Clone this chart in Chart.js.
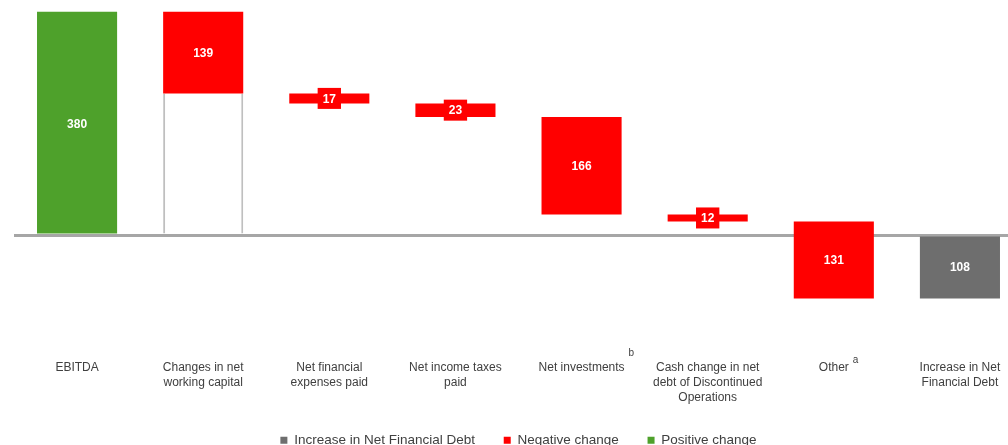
<!DOCTYPE html>
<html>
<head>
<meta charset="utf-8">
<script src="https://cdn.jsdelivr.net/npm/chart.js@4.4.1/dist/chart.umd.min.js"></script>
<style>
  html, body { margin: 0; padding: 0; background: #fff; overflow: hidden; }
  #wrap { position: relative; width: 1023px; height: 445px; }
</style>
</head>
<body>
<div id="wrap"><canvas id="chart"></canvas></div>
<script>
// categories of the bridge
const categories = [
  "EBITDA",
  ["Changes in net", "working capital"],
  ["Net financial", "expenses paid"],
  ["Net income taxes", "paid"],
  "Net investments",
  ["Cash change in net", "debt of Discontinued", "Operations"],
  "Other",
  ["Increase in Net", "Financial Debt"],
];
// change of each step (last one = resulting total)
const changes = [380, -139, -17, -23, -166, -12, -131, -108];
// kind of each bar: pos / neg / total
const kinds = ["pos", "neg", "neg", "neg", "neg", "neg", "neg", "total"];
// footnote marks next to some labels
const notes = ["", "", "", "", "b", "", "a", ""];

const colors = { pos: "#4ea12b", neg: "#ff0000", total: "#6e6e6e" };

// build floating ranges from the running total
let running = 0;
const ranges = changes.map((c, i) => {
  if (kinds[i] === "total") return [0, c];
  const r = [running, running + c];
  running += c;
  return r;
});

const pick = (k) => ranges.map((r, i) => (kinds[i] === k ? r : null));
// white filler under "Changes in net working capital"
const filler = ranges.map((r, i) => (i === 1 ? [0, Math.min(r[0], r[1])] : null));

// values written in the bars
const barLabels = {
  id: "barLabels",
  afterDatasetsDraw(chart) {
    const ctx = chart.ctx;
    const y = chart.scales.y;
    ctx.save();
    ctx.font = "bold 12px 'Liberation Sans', Arial, sans-serif";
    ctx.textAlign = "center";
    ctx.textBaseline = "middle";
    chart.data.datasets.forEach((ds, di) => {
      if (ds.isFiller) return;
      const meta = chart.getDatasetMeta(di);
      meta.data.forEach((bar, i) => {
        const r = ds.data[i];
        if (!r) return;
        const top = y.getPixelForValue(Math.max(r[0], r[1]));
        const bot = y.getPixelForValue(Math.min(r[0], r[1]));
        const cy = (top + bot) / 2;
        const txt = String(Math.abs(changes[i]));
        if (bot - top < 18) {
          const w = ctx.measureText(txt).width + 10;
          ctx.fillStyle = ds.backgroundColor;
          ctx.fillRect(bar.x - w / 2, cy - 10.5, w, 21);
        }
        ctx.fillStyle = "#ffffff";
        ctx.fillText(txt, bar.x, cy + 1);
      });
    });
    ctx.restore();
  },
};

// footnote superscripts on the axis labels
const footnotes = {
  id: "footnotes",
  afterDraw(chart) {
    const ctx = chart.ctx;
    const x = chart.scales.x;
    ctx.save();
    ctx.fillStyle = "#404040";
    ctx.textAlign = "left";
    ctx.textBaseline = "middle";
    notes.forEach((n, i) => {
      if (!n) return;
      ctx.font = "12px 'Liberation Sans', Arial, sans-serif";
      const w = ctx.measureText(categories[i]).width;
      ctx.font = "10px 'Liberation Sans', Arial, sans-serif";
      const px = x.getPixelForTick(i) + w / 2 + 4;
      const py = i === 4 ? x.top + 1 : x.top + 8;
      ctx.fillText(n, px, py);
    });
    ctx.restore();
  },
};

new Chart(document.getElementById("chart"), {
  type: "bar",
  plugins: [barLabels, footnotes],
  data: {
    labels: categories,
    datasets: [
      {
        label: "Increase in Net Financial Debt",
        data: pick("total"),
        backgroundColor: colors.total,
      },
      {
        label: "Negative change",
        data: pick("neg"),
        backgroundColor: colors.neg,
      },
      {
        label: "Positive change",
        data: pick("pos"),
        backgroundColor: colors.pos,
      },
      {
        label: "filler",
        isFiller: true,
        data: filler,
        backgroundColor: "#ffffff",
        borderColor: "#bfbfbf",
        borderWidth: { left: 2, right: 2, top: 0, bottom: 0 },
        borderSkipped: false,
      },
    ],
  },
  options: {
    responsive: true,
    maintainAspectRatio: false,
    animation: false,
    grouped: false,
    categoryPercentage: 1,
    barPercentage: 0.635,
    layout: { padding: { left: 14, right: 0, top: -1, bottom: -12 } },
    plugins: {
      tooltip: { enabled: false },
      legend: {
        position: "bottom",
        labels: {
          filter: (item, data) => !data.datasets[item.datasetIndex].isFiller,
          // trailing spaces widen the gap between items (not after the last one)
          generateLabels: (chart) =>
            Chart.defaults.plugins.legend.labels.generateLabels(chart).map((l) => {
              if (l.datasetIndex < 2) l.text = l.text + "     ";
              return l;
            }),
          boxWidth: 7,
          boxHeight: 7,
          padding: 10,
          color: "#404040",
          font: { size: 13.5, family: "'Liberation Sans', Arial, sans-serif" },
        },
      },
    },
    scales: {
      x: {
        grid: { display: false, drawTicks: false },
        border: { display: false },
        ticks: {
          color: "#404040",
          maxRotation: 0,
          autoSkip: false,
          padding: 8,
          font: { size: 12, lineHeight: 1.25, family: "'Liberation Sans', Arial, sans-serif" },
        },
        afterFit: (s) => { s.height = 71; },
      },
      y: {
        min: -200,
        max: 400,
        z: 1,
        ticks: { display: false },
        border: { display: false },
        grid: {
          drawTicks: false,
          lineWidth: 3,
          color: (c) => (c.tick && c.tick.value === 0 ? "#a6a6a6" : "rgba(0,0,0,0)"),
        },
        afterFit: (s) => { s.width = 0; },
      },
    },
  },
});
</script>
</body>
</html>
